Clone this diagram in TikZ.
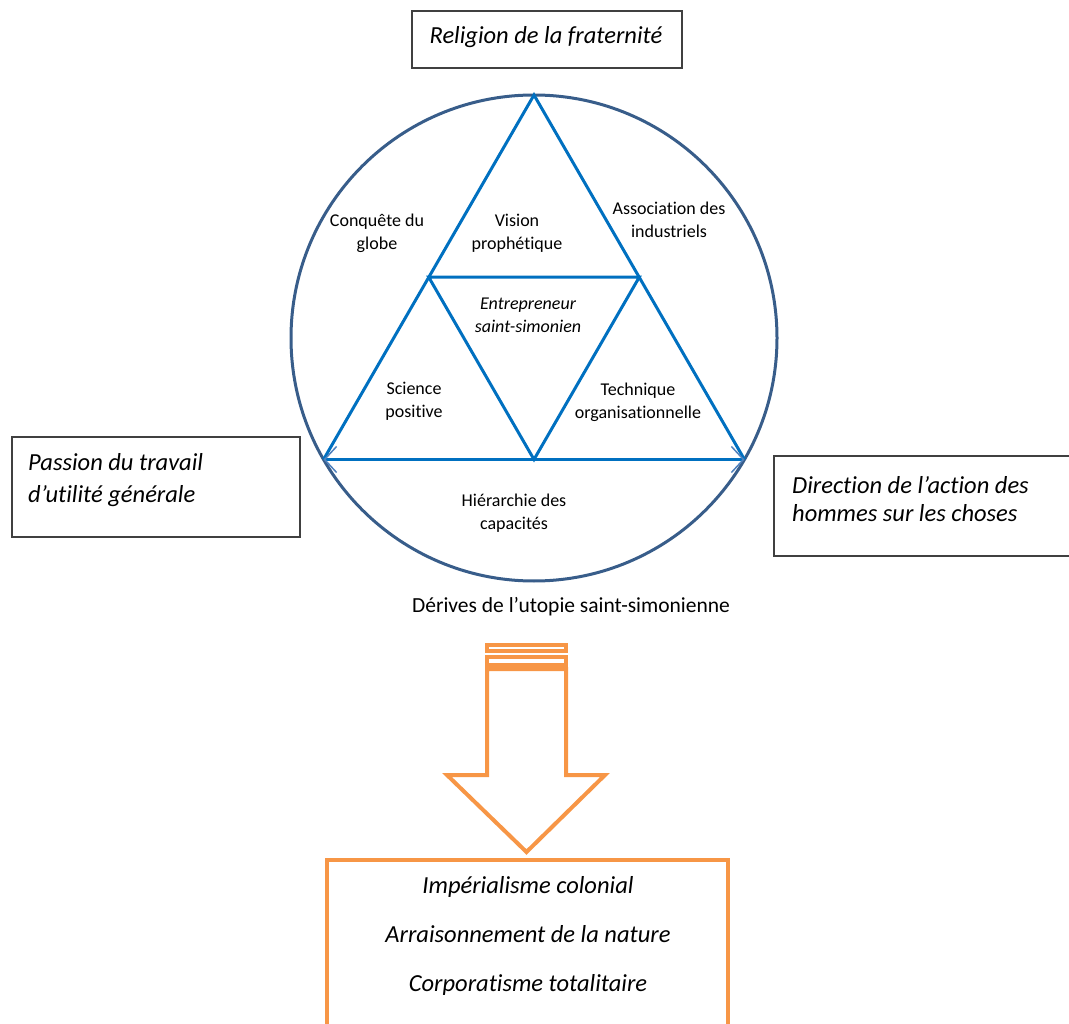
\documentclass[tikz,border=0pt]{standalone}
\usepackage{fontspec}
\setmainfont{Carlito}[Ligatures=NoCommon]
\usetikzlibrary{calc,arrows.meta,positioning}
\definecolor{ringblue}{RGB}{56,93,138}
\definecolor{triblue}{RGB}{0,112,192}
\definecolor{barbblue}{RGB}{79,129,189}
\definecolor{derorange}{RGB}{247,150,70}
\tikzset{
    frame/.style={
    rectangle,draw=black!75,line width=1.6pt,inner sep=0pt
    },
    obox/.style={
    rectangle,draw=derorange,line width=3.5pt,inner sep=0pt
    },
    bigit/.style={
    inner sep=0pt,font=\fontsize{24.5}{32}\selectfont\itshape
    },
    lbl/.style={
    align=center,inner sep=0pt,font=\fontsize{18}{23}\selectfont
    },
    triline/.style={
    draw=triblue,line width=3pt,line join=miter
    },
    bararrow/.style={
    draw=derorange,line width=4pt,line join=miter
    },
    barbtip/.tip={
    Straight Barb[length=12pt,width=26pt,line width=1.5pt,color=barbblue]
    },
}
\begin{document}
\begin{tikzpicture}[x=1pt,y=-1pt]
   \useasboundingbox (0,0) rectangle (1069,1024);
   \node[frame,minimum width=270pt,minimum height=57pt] (religion) at (547,39.5) {};
   \node[bigit] (religiontxt) at (546,37) {Religion de la fraternité};
   \node[frame,minimum width=288pt,minimum height=100pt] (passion) at (156,487) {};
   \node[bigit,align=left,anchor=west] (passiontxt) at (28,480) {Passion du travail\\d’utilité générale};
   \node[frame,minimum width=310pt,minimum height=100pt,anchor=north west] (direction) at (773,455) {};
   \node[bigit,align=left,anchor=west,font=\fontsize{24.5}{28}\selectfont\itshape] (directiontxt) at (792,499) {Direction de l’action des\\hommes sur les choses};

   \node[circle,draw=ringblue,line width=3pt,minimum size=486pt,outer sep=0pt] (ring) at (534,338) {};
   \coordinate (top) at (ring.90);
   \coordinate (bl) at (ring.210);
   \coordinate (br) at (ring.330);
   \coordinate (ml) at ($(top)!0.5!(bl)$);
   \coordinate (mr) at ($(top)!0.5!(br)$);
   \coordinate (mb) at ($(bl)!0.5!(br)$);
   \draw[triline] (bl) -- (top) -- (br);
   \draw[triline,barbtip-barbtip] (bl) -- (br);
   \draw[triline] (ml) -- (mr) -- (mb) -- cycle;

   \node[lbl] (conquete) at (377,233) {Conquête du\\globe};
   \node[lbl] (vision) at (517,233) {Vision\\prophétique};
   \node[lbl] (association) at (669,220) {Association des\\industriels};
   \node[lbl,font=\fontsize{18}{23}\selectfont\itshape] (entrepreneur) at (528,315) {Entrepreneur\\saint-simonien};
   \node[lbl] (science) at (414,401) {Science\\positive};
   \node[lbl] (technique) at (638,402) {Technique\\organisationnelle};
   \node[lbl] (hierarchie) at (514,513) {Hiérarchie des\\capacités};

   \node[inner sep=0pt,font=\fontsize{21.5}{25}\selectfont] (derives) at (571,607) {Dérives de l’utopie saint-simonienne};

   \draw[bararrow] (487,645) rectangle (566,651);
   \draw[bararrow] (487,657) rectangle (566,665);
   \draw[bararrow] (487,669) -- (487,775) -- (447,775) -- (526.5,852) -- (605,775) -- (566,775) -- (566,669) -- cycle;

   \node[obox,minimum width=401pt,minimum height=190pt,anchor=north] (consq) at (527.5,858) {};
   \node[bigit,align=center,font=\fontsize{24.5}{29}\selectfont\itshape] (consqtxt) at (528,935.5) {Impérialisme colonial\\[20pt]Arraisonnement de la nature\\[20pt]Corporatisme totalitaire};
\end{tikzpicture}
\end{document}
